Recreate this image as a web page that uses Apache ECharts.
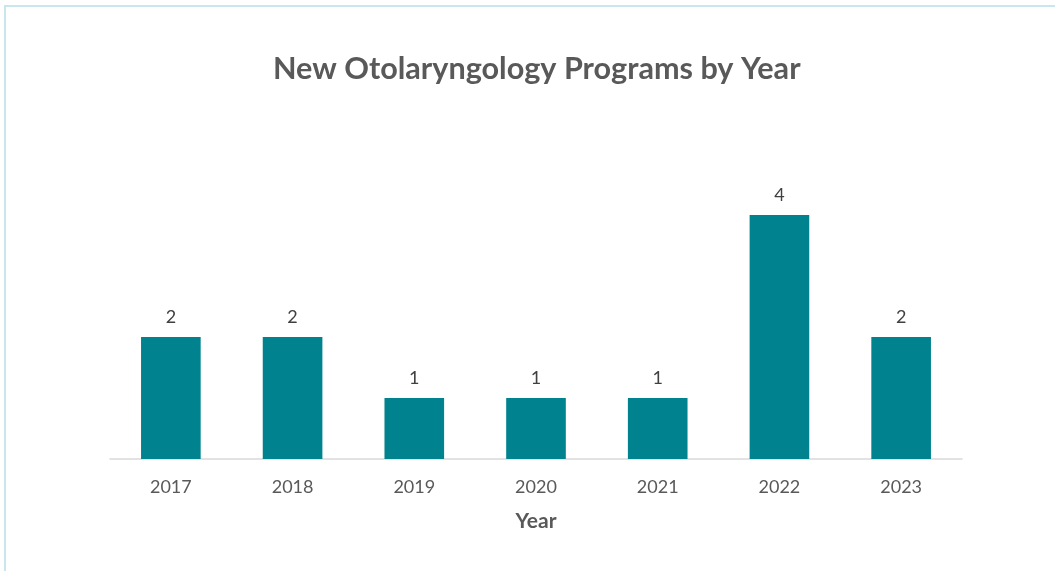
<!DOCTYPE html>
<html>
<head>
<meta charset="utf-8">
<script src="https://cdn.jsdelivr.net/npm/echarts@6/dist/echarts.min.js"></script>
<style>
  html, body { margin: 0; padding: 0; background: #fff; }
  #chart { width: 1055px; height: 571px; }
</style>
</head>
<body>
<div id="chart"></div>
<script>
// data
var years = ['2017', '2018', '2019', '2020', '2021', '2022', '2023'];
var newPrograms = [2, 2, 1, 1, 1, 4, 2];

var textColor = '#595959';
var barColor = '#00838f';

var myChart = echarts.init(document.getElementById('chart'));
var option = {
    animation: false,
    title: {
        text: 'New Otolaryngology Programs by Year',
        left: 268,
        top: 49,
        textStyle: {
            fontFamily: 'Lato',
            fontSize: 30.6,
            fontWeight: 'bold',
            color: textColor
        }
    },
    graphic: [{
        type: 'rect',
        shape: { x: 5, y: 6, width: 1100, height: 620 },
        style: { fill: 'none', stroke: '#c8e6ec', lineWidth: 2 }
    }],
    grid: {
        left: 110,
        right: 93,
        top: 154,
        bottom: 112
    },
    xAxis: {
        type: 'category',
        data: years,
        name: 'Year',
        nameLocation: 'middle',
        nameGap: 52,
        nameTextStyle: {
            fontFamily: 'Lato',
            fontSize: 21,
            fontWeight: 'bold',
            color: textColor
        },
        axisLine: { lineStyle: { color: '#d9d9d9', width: 1.5 } },
        axisTick: { show: false },
        axisLabel: {
            fontFamily: 'Lato',
            fontSize: 18,
            color: textColor,
            margin: 19
        }
    },
    yAxis: {
        type: 'value',
        min: 0,
        max: 5,
        show: false,
        splitLine: { show: false }
    },
    series: [{
        type: 'bar',
        data: newPrograms,
        barWidth: '49%',
        itemStyle: { color: barColor },
        label: {
            show: true,
            position: 'top',
            distance: 11,
            fontFamily: 'Lato',
            fontSize: 18,
            color: '#404040'
        }
    }]
};
myChart.setOption(option);
</script>
</body>
</html>
